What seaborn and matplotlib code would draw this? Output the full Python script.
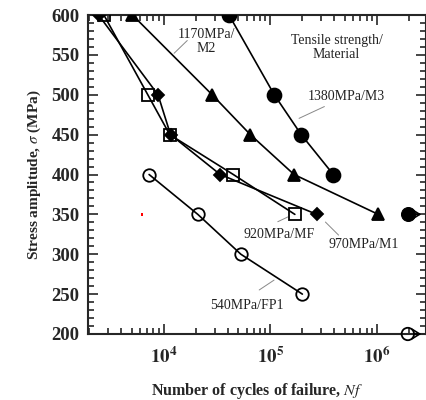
import numpy as np
import pandas as pd
import matplotlib
matplotlib.use("Agg")
import matplotlib.pyplot as plt
import seaborn as sns
from matplotlib.ticker import MultipleLocator, LogLocator, NullFormatter

# ---- data ----
m3_cycles = [4.1e4, 1.09e5, 1.95e5, 3.9e5]
m3_stress = [600, 500, 450, 400]
m2_cycles = [5.1e3, 2.85e4, 6.5e4, 1.67e5, 1.03e6]
m2_stress = [600, 500, 450, 400, 350]
mf_cycles = [2.75e3, 7.1e3, 1.14e4, 4.5e4, 1.7e5]
mf_stress = [600, 500, 450, 400, 350]
m1_cycles = [2.45e3, 8.85e3, 1.16e4, 3.39e4, 2.73e5]
m1_stress = [600, 500, 450, 400, 350]
fp1_cycles = [7.3e3, 2.09e4, 5.3e4, 2.0e5]
fp1_stress = [400, 350, 300, 250]
runout_m3 = (1.95e6, 350)
runout_fp1 = (1.95e6, 200)
stray_point = (6.3e3, 350)

labels = ["1380MPa/M3", "1170MPa/M2", "920MPa/MF", "970MPa/M1", "540MPa/FP1"]

sns.set_theme(style="ticks")
plt.rcParams['font.family'] = ['Liberation Serif', 'DejaVu Serif']
plt.rcParams['mathtext.fontset'] = 'stix'

fig = plt.figure(figsize=(4.27, 4.00), dpi=100)
ax = fig.add_axes([0.206, 0.165, 0.791, 0.7975])

def draw(c, s, marker, fill, ms):
    df = pd.DataFrame({"N": c, "S": s})
    sns.lineplot(data=df, x="N", y="S", sort=False, ax=ax, color="black",
                 lw=1.2, marker=marker, markersize=ms,
                 markerfacecolor=("black" if fill else "none"),
                 markeredgecolor="black", markeredgewidth=1.3, zorder=3)

draw(m1_cycles, m1_stress, "D", True, 6)
draw(mf_cycles, mf_stress, "s", False, 9)
draw(m2_cycles, m2_stress, "^", True, 8)
draw(m3_cycles, m3_stress, "o", True, 10)
draw(fp1_cycles, fp1_stress, "o", False, 9)

# run-outs
sns.scatterplot(x=[runout_m3[0]], y=[runout_m3[1]], ax=ax, marker="o", s=100,
                color="black", edgecolor="black", zorder=4, clip_on=False)
sns.scatterplot(x=[runout_fp1[0]], y=[runout_fp1[1]], ax=ax, marker="o", s=80,
                facecolor="none", edgecolor="black", linewidth=1.3, zorder=4, clip_on=False)
for rx, ry in [runout_m3, runout_fp1]:
    ax.annotate("", xy=(rx * 1.42, ry), xytext=(rx * 1.08, ry),
                arrowprops=dict(arrowstyle="->,head_length=0.45,head_width=0.28",
                                color="black", lw=1.2),
                annotation_clip=False, zorder=6, clip_on=False)
sns.scatterplot(x=[stray_point[0]], y=[stray_point[1]], ax=ax, marker="s", s=3,
                color="red", edgecolor="none", zorder=4)

ax.set_xscale("log")
ax.set_xlim(1950, 2.87e6)
ax.set_ylim(200, 600)
ax.yaxis.set_major_locator(MultipleLocator(50))
ax.yaxis.set_minor_locator(MultipleLocator(10))
ax.xaxis.set_major_locator(LogLocator(base=10, numticks=10))
ax.xaxis.set_minor_locator(LogLocator(base=10, subs=np.arange(2, 10), numticks=20))
ax.xaxis.set_minor_formatter(NullFormatter())
ax.tick_params(which="both", direction="in", top=True, right=True, width=1.2)
ax.tick_params(which="major", length=7)
ax.tick_params(which="minor", length=4)
ax.tick_params(axis="y", labelsize=13.5, pad=6)
ax.tick_params(axis="x", labelsize=13.5, pad=9)
for lab in ax.get_yticklabels():
    lab.set_fontweight("bold")
ax.set_xticks([1e4, 1e5, 1e6])
ax.set_xticklabels([r"$\mathbf{10^4}$", r"$\mathbf{10^5}$", r"$\mathbf{10^6}$"])
for sp in ax.spines.values():
    sp.set_linewidth(1.5)

ax.set_xlabel("Number of cycles of failure, $\\it{Nf}$", fontsize=11.5,
              fontweight="bold", labelpad=10)
ax.set_ylabel("Stress amplitude, $\\it{\\sigma}$ (MPa)", fontsize=11,
              fontweight="bold", labelpad=6)

tk = dict(fontsize=10, color="#222222", ha="center", va="center")
ax.text(0.35, 0.918, "1170MPa/\nM2", transform=ax.transAxes, linespacing=1.1, **tk)
ax.text(0.736, 0.897, "Tensile strength/\nMaterial", transform=ax.transAxes, linespacing=1.1, **tk)
ax.text(0.766, 0.746, labels[0], transform=ax.transAxes, **tk)
ax.text(0.565, 0.313, labels[2], transform=ax.transAxes, **tk)
ax.text(0.817, 0.279, labels[3], transform=ax.transAxes, **tk)
ax.text(0.47, 0.088, labels[4], transform=ax.transAxes, **tk)

lk = dict(color="#888888", lw=0.7)
def leader(x0, y0, x1, y1):
    ax.plot([x0, x1], [y0, y1], transform=ax.transAxes, **lk)
leader(0.255, 0.88, 0.294, 0.92)
leader(0.625, 0.676, 0.70, 0.713)
leader(0.562, 0.352, 0.592, 0.367)
leader(0.703, 0.351, 0.742, 0.31)
leader(0.507, 0.138, 0.551, 0.169)

fig.savefig("out.png", dpi=100)
